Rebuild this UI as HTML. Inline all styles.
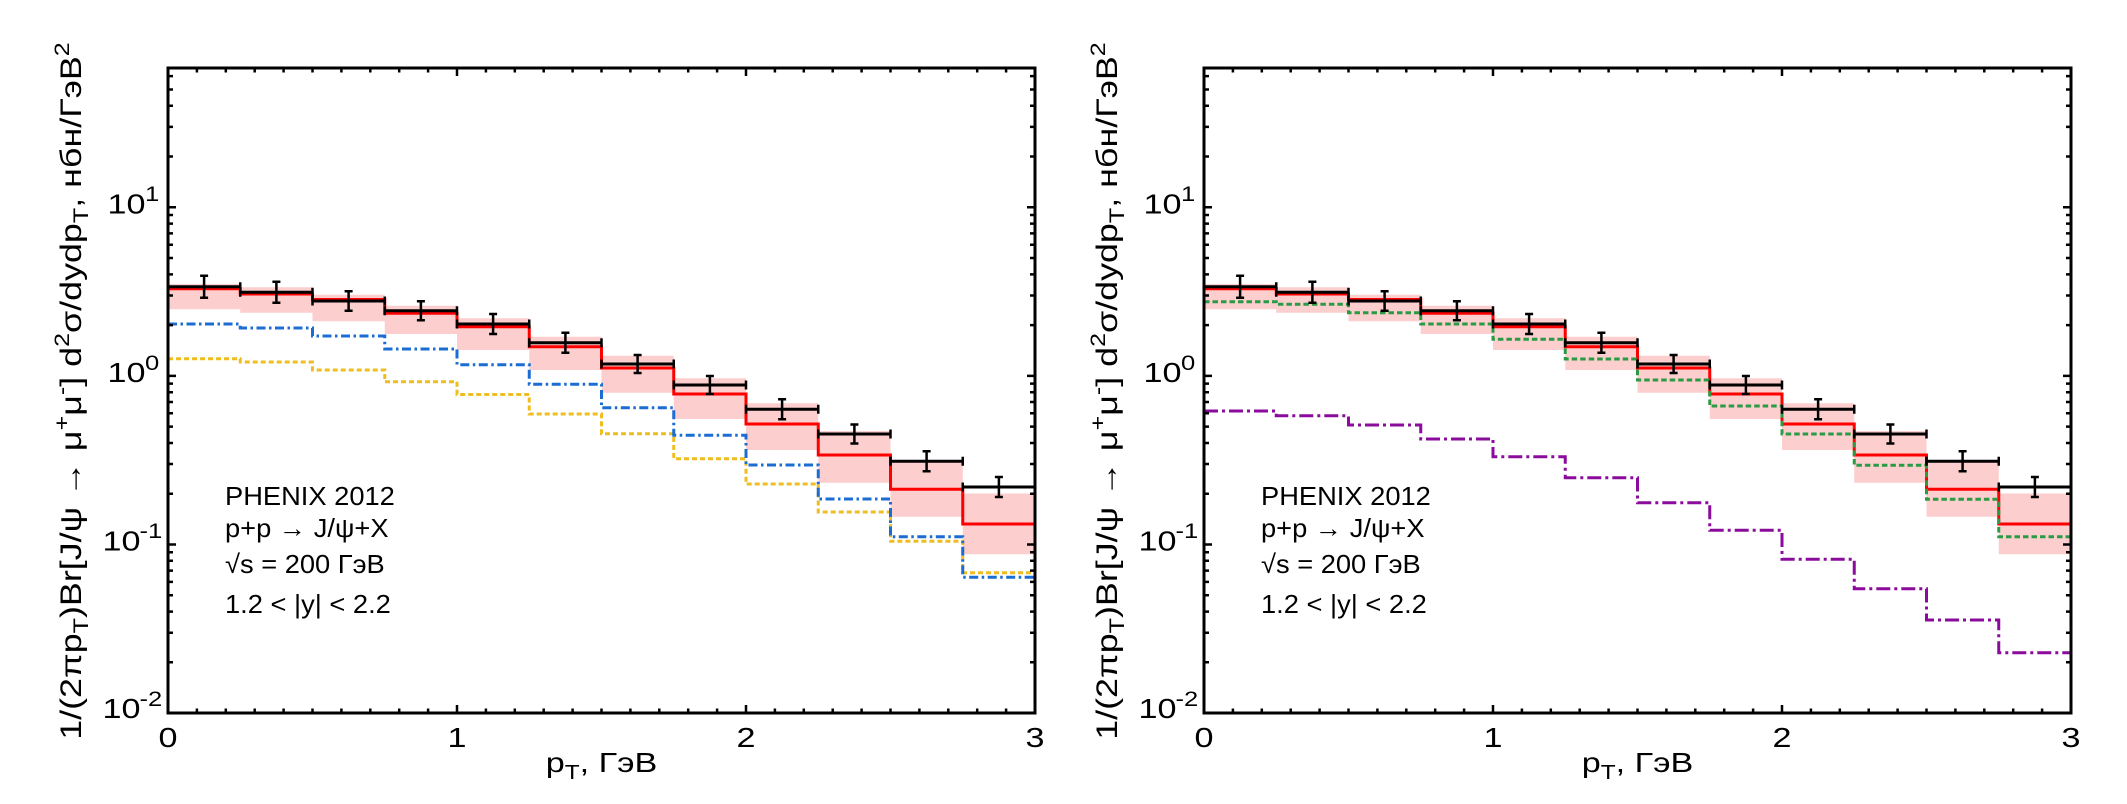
<!DOCTYPE html>
<html><head><meta charset="utf-8"><style>
html,body{margin:0;padding:0;background:#fff;}
svg{display:block;}
text{font-family:"Liberation Sans",Arial,sans-serif;fill:#000;}
</style></head><body>
<svg width="2127" height="804" viewBox="0 0 2127 804" xmlns="http://www.w3.org/2000/svg">
<rect width="2127" height="804" fill="#fff"/>

<!-- LEFT PANEL -->
<g>
<path d="M168,284 H240.25 V287.3 H312.5 V294.7 H384.75 V305.7 H457 V318.3 H529.25 V336.7 H601.5 V355.7 H673.75 V378.3 H746 V403.3 H818.25 V431 H890.5 V461 H962.75 V493.5 H1035 V554.3 H962.75 V516.7 H890.5 V482.7 H818.25 V450 H746 V419 H673.75 V392.7 H601.5 V370 H529.25 V350 H457 V334 H384.75 V321.3 H312.5 V312.7 H240.25 V309.3 H168 Z" fill="#fccece"/>
<path d="M168,288.7 H240.25 V294 H312.5 V299.5 H384.75 V313.3 H457 V326.7 H529.25 V346.7 H601.5 V368 H673.75 V394 H746 V424 H818.25 V455 H890.5 V489.3 H962.75 V524 H1035" fill="none" stroke="#ff0000" stroke-width="3"/>
<path d="M168,358.7 H240.25 V362 H312.5 V370 H384.75 V381.7 H457 V394.5 H529.25 V414 H601.5 V433.7 H673.75 V458.7 H746 V484 H818.25 V512 H890.5 V541.3 H962.75 V572.7 H1035" fill="none" stroke="#efbd1f" stroke-width="3" stroke-dasharray="5 3"/>
<path d="M168,324 H240.25 V328 H312.5 V336 H384.75 V349 H457 V364.7 H529.25 V384.3 H601.5 V407.7 H673.75 V435.3 H746 V465 H818.25 V499 H890.5 V536.7 H962.75 V577.3 H1035" fill="none" stroke="#1b6dd3" stroke-width="3" stroke-dasharray="9 3.5 2.5 3.5"/>
<g fill="none" stroke="#000">
<path stroke-width="3" d="M168 286.7H240.25M240.25 292.3H312.5M312.5 301H384.75M384.75 310.7H457M457 324H529.25M529.25 342.7H601.5M601.5 364H673.75M673.75 385H746M746 409.3H818.25M818.25 434H890.5M890.5 461.3H962.75M962.75 487H1035"/>
<path stroke-width="2.5" d="M168 282.2v9M240.25 282.2v9M240.25 287.8v9M312.5 287.8v9M312.5 296.5v9M384.75 296.5v9M384.75 306.2v9M457 306.2v9M457 319.5v9M529.25 319.5v9M529.25 338.2v9M601.5 338.2v9M601.5 359.5v9M673.75 359.5v9M673.75 380.5v9M746 380.5v9M746 404.8v9M818.25 404.8v9M818.25 429.5v9M890.5 429.5v9M890.5 456.8v9M962.75 456.8v9M962.75 482.5v9M1035 482.5v9"/>
<path stroke-width="2.5" d="M204.1 275.7V297.7M200.1 275.7h8M200.1 297.7h8M276.4 281.8V302.8M272.4 281.8h8M272.4 302.8h8M348.6 291.2V310.8M344.6 291.2h8M344.6 310.8h8M420.9 301.2V320.2M416.9 301.2h8M416.9 320.2h8M493.1 314V334M489.1 314h8M489.1 334h8M565.4 332.7V352.7M561.4 332.7h8M561.4 352.7h8M637.6 355V373M633.6 355h8M633.6 373h8M709.9 376V394M705.9 376h8M705.9 394h8M782.1 399.3V419.3M778.1 399.3h8M778.1 419.3h8M854.4 424.5V443.5M850.4 424.5h8M850.4 443.5h8M926.6 451.3V471.3M922.6 451.3h8M922.6 471.3h8M998.9 477V497M994.9 477h8M994.9 497h8"/>
</g>
<!-- frame and ticks -->
<rect x="168" y="68" width="867" height="645" fill="none" stroke="#000" stroke-width="3"/>
<path fill="none" stroke="#000" stroke-width="2.5" d="M196.9 713v-4.5M225.8 713v-4.5M254.7 713v-4.5M283.6 713v-4.5M312.5 713v-4.5M341.4 713v-4.5M370.3 713v-4.5M399.2 713v-4.5M428.1 713v-4.5M485.9 713v-4.5M514.8 713v-4.5M543.7 713v-4.5M572.6 713v-4.5M601.5 713v-4.5M630.4 713v-4.5M659.3 713v-4.5M688.2 713v-4.5M717.1 713v-4.5M774.9 713v-4.5M803.8 713v-4.5M832.7 713v-4.5M861.6 713v-4.5M890.5 713v-4.5M919.4 713v-4.5M948.3 713v-4.5M977.2 713v-4.5M1006.1 713v-4.5M457 713v-8M746 713v-8
M196.9 68v4.5M225.8 68v4.5M254.7 68v4.5M283.6 68v4.5M312.5 68v4.5M341.4 68v4.5M370.3 68v4.5M399.2 68v4.5M428.1 68v4.5M485.9 68v4.5M514.8 68v4.5M543.7 68v4.5M572.6 68v4.5M601.5 68v4.5M630.4 68v4.5M659.3 68v4.5M688.2 68v4.5M717.1 68v4.5M774.9 68v4.5M803.8 68v4.5M832.7 68v4.5M861.6 68v4.5M890.5 68v4.5M919.4 68v4.5M948.3 68v4.5M977.2 68v4.5M1006.1 68v4.5M457 68v8M746 68v8
M168 662.3h5M168 632.7h5M168 611.6h5M168 595.3h5M168 581.9h5M168 570.6h5M168 560.8h5M168 552.2h5M168 493.75h5M168 464.06h5M168 443h5M168 426.66h5M168 413.3h5M168 402h5M168 392.24h5M168 383.6h5M168 325.15h5M168 295.46h5M168 274.4h5M168 258.06h5M168 244.7h5M168 233.4h5M168 223.64h5M168 215h5M168 156.55h5M168 126.86h5M168 105.8h5M168 89.46h5M168 76.1h5M168 544.5h8M168 375.9h8M168 207.3h8
M1035 662.3h-5M1035 632.7h-5M1035 611.6h-5M1035 595.3h-5M1035 581.9h-5M1035 570.6h-5M1035 560.8h-5M1035 552.2h-5M1035 493.75h-5M1035 464.06h-5M1035 443h-5M1035 426.66h-5M1035 413.3h-5M1035 402h-5M1035 392.24h-5M1035 383.6h-5M1035 325.15h-5M1035 295.46h-5M1035 274.4h-5M1035 258.06h-5M1035 244.7h-5M1035 233.4h-5M1035 223.64h-5M1035 215h-5M1035 156.55h-5M1035 126.86h-5M1035 105.8h-5M1035 89.46h-5M1035 76.1h-5M1035 544.5h-8M1035 375.9h-8M1035 207.3h-8"/>
<!-- tick labels -->
<g font-size="28">
<text transform="translate(168,747) scale(1.22,1)" text-anchor="middle">0</text>
<text transform="translate(457,747) scale(1.22,1)" text-anchor="middle">1</text>
<text transform="translate(746,747) scale(1.22,1)" text-anchor="middle">2</text>
<text transform="translate(1035,747) scale(1.22,1)" text-anchor="middle">3</text>
<text transform="translate(145.5,213.5) scale(1.22,1)" text-anchor="end">10</text>
<text transform="translate(145.5,382) scale(1.22,1)" text-anchor="end">10</text>
<text transform="translate(140.5,550.5) scale(1.22,1)" text-anchor="end">10</text>
<text transform="translate(140.5,718) scale(1.22,1)" text-anchor="end">10</text>
</g>
<g font-size="21">
<text transform="translate(145,201) scale(1.22,1)">1</text>
<text transform="translate(145,370) scale(1.22,1)">0</text>
<text transform="translate(139.5,538) scale(1.22,1)">-1</text>
<text transform="translate(139.5,706) scale(1.22,1)">-2</text>
</g>
<!-- axis titles -->
<text transform="translate(601.5,772) scale(1.22,1)" text-anchor="middle" font-size="28">p<tspan font-size="20" dy="7">T</tspan><tspan dy="-7">, ГэВ</tspan></text>
<text transform="translate(81,391) rotate(-90) scale(1.195,1)" text-anchor="middle" font-size="30">1/(2πp<tspan font-size="21" dy="7">T</tspan><tspan dy="-7">)Br[J/ψ → μ</tspan><tspan font-size="21" dy="-12">+</tspan><tspan dy="12">μ</tspan><tspan font-size="21" dy="-12">-</tspan><tspan dy="12">] d</tspan><tspan font-size="21" dy="-12">2</tspan><tspan dy="12">σ/dydp</tspan><tspan font-size="21" dy="7">T</tspan><tspan dy="-7">, нбн/ГэВ</tspan><tspan font-size="21" dy="-12">2</tspan></text>
<!-- annotation -->
<g font-size="26">
<text transform="translate(225,505) scale(1.05,1)">PHENIX 2012</text>
<text transform="translate(225,537) scale(1.05,1)">p+p → J/ψ+X</text>
<text transform="translate(225,573) scale(1.05,1)">√s = 200 ГэВ</text>
<text transform="translate(225,613) scale(1.05,1)">1.2 &lt; |y| &lt; 2.2</text>
</g>
</g>

<!-- RIGHT PANEL -->
<g transform="translate(1036,0)">
<path d="M168,284 H240.25 V287.3 H312.5 V294.7 H384.75 V305.7 H457 V318.3 H529.25 V336.7 H601.5 V355.7 H673.75 V378.3 H746 V403.3 H818.25 V431 H890.5 V461 H962.75 V493.5 H1035 V554.3 H962.75 V516.7 H890.5 V482.7 H818.25 V450 H746 V419 H673.75 V392.7 H601.5 V370 H529.25 V350 H457 V334 H384.75 V321.3 H312.5 V312.7 H240.25 V309.3 H168 Z" fill="#fccece"/>
<path d="M168,288.7 H240.25 V294 H312.5 V299.5 H384.75 V313.3 H457 V326.7 H529.25 V346.7 H601.5 V368 H673.75 V394 H746 V424 H818.25 V455 H890.5 V489.3 H962.75 V524 H1035" fill="none" stroke="#ff0000" stroke-width="3"/>
<path d="M168,301.7 H240.25 V304.3 H312.5 V312.7 H384.75 V324 H457 V339.3 H529.25 V359 H601.5 V380 H673.75 V406 H746 V434 H818.25 V465.3 H890.5 V499.3 H962.75 V536.7 H1035" fill="none" stroke="#2a9a45" stroke-width="3" stroke-dasharray="5.5 3"/>
<path d="M168,411 H240.25 V415.7 H312.5 V425 H384.75 V439 H457 V456.7 H529.25 V477.7 H601.5 V502.7 H673.75 V530.3 H746 V559.3 H818.25 V588.7 H890.5 V620 H962.75 V652.7 H1035" fill="none" stroke="#8b0b9c" stroke-width="3" stroke-dasharray="14 4 3 4"/>
<g fill="none" stroke="#000">
<path stroke-width="3" d="M168 286.7H240.25M240.25 292.3H312.5M312.5 301H384.75M384.75 310.7H457M457 324H529.25M529.25 342.7H601.5M601.5 364H673.75M673.75 385H746M746 409.3H818.25M818.25 434H890.5M890.5 461.3H962.75M962.75 487H1035"/>
<path stroke-width="2.5" d="M168 282.2v9M240.25 282.2v9M240.25 287.8v9M312.5 287.8v9M312.5 296.5v9M384.75 296.5v9M384.75 306.2v9M457 306.2v9M457 319.5v9M529.25 319.5v9M529.25 338.2v9M601.5 338.2v9M601.5 359.5v9M673.75 359.5v9M673.75 380.5v9M746 380.5v9M746 404.8v9M818.25 404.8v9M818.25 429.5v9M890.5 429.5v9M890.5 456.8v9M962.75 456.8v9M962.75 482.5v9M1035 482.5v9"/>
<path stroke-width="2.5" d="M204.1 275.7V297.7M200.1 275.7h8M200.1 297.7h8M276.4 281.8V302.8M272.4 281.8h8M272.4 302.8h8M348.6 291.2V310.8M344.6 291.2h8M344.6 310.8h8M420.9 301.2V320.2M416.9 301.2h8M416.9 320.2h8M493.1 314V334M489.1 314h8M489.1 334h8M565.4 332.7V352.7M561.4 332.7h8M561.4 352.7h8M637.6 355V373M633.6 355h8M633.6 373h8M709.9 376V394M705.9 376h8M705.9 394h8M782.1 399.3V419.3M778.1 399.3h8M778.1 419.3h8M854.4 424.5V443.5M850.4 424.5h8M850.4 443.5h8M926.6 451.3V471.3M922.6 451.3h8M922.6 471.3h8M998.9 477V497M994.9 477h8M994.9 497h8"/>
</g>
<rect x="168" y="68" width="867" height="645" fill="none" stroke="#000" stroke-width="3"/>
<path fill="none" stroke="#000" stroke-width="2.5" d="M196.9 713v-4.5M225.8 713v-4.5M254.7 713v-4.5M283.6 713v-4.5M312.5 713v-4.5M341.4 713v-4.5M370.3 713v-4.5M399.2 713v-4.5M428.1 713v-4.5M485.9 713v-4.5M514.8 713v-4.5M543.7 713v-4.5M572.6 713v-4.5M601.5 713v-4.5M630.4 713v-4.5M659.3 713v-4.5M688.2 713v-4.5M717.1 713v-4.5M774.9 713v-4.5M803.8 713v-4.5M832.7 713v-4.5M861.6 713v-4.5M890.5 713v-4.5M919.4 713v-4.5M948.3 713v-4.5M977.2 713v-4.5M1006.1 713v-4.5M457 713v-8M746 713v-8
M196.9 68v4.5M225.8 68v4.5M254.7 68v4.5M283.6 68v4.5M312.5 68v4.5M341.4 68v4.5M370.3 68v4.5M399.2 68v4.5M428.1 68v4.5M485.9 68v4.5M514.8 68v4.5M543.7 68v4.5M572.6 68v4.5M601.5 68v4.5M630.4 68v4.5M659.3 68v4.5M688.2 68v4.5M717.1 68v4.5M774.9 68v4.5M803.8 68v4.5M832.7 68v4.5M861.6 68v4.5M890.5 68v4.5M919.4 68v4.5M948.3 68v4.5M977.2 68v4.5M1006.1 68v4.5M457 68v8M746 68v8
M168 662.3h5M168 632.7h5M168 611.6h5M168 595.3h5M168 581.9h5M168 570.6h5M168 560.8h5M168 552.2h5M168 493.75h5M168 464.06h5M168 443h5M168 426.66h5M168 413.3h5M168 402h5M168 392.24h5M168 383.6h5M168 325.15h5M168 295.46h5M168 274.4h5M168 258.06h5M168 244.7h5M168 233.4h5M168 223.64h5M168 215h5M168 156.55h5M168 126.86h5M168 105.8h5M168 89.46h5M168 76.1h5M168 544.5h8M168 375.9h8M168 207.3h8
M1035 662.3h-5M1035 632.7h-5M1035 611.6h-5M1035 595.3h-5M1035 581.9h-5M1035 570.6h-5M1035 560.8h-5M1035 552.2h-5M1035 493.75h-5M1035 464.06h-5M1035 443h-5M1035 426.66h-5M1035 413.3h-5M1035 402h-5M1035 392.24h-5M1035 383.6h-5M1035 325.15h-5M1035 295.46h-5M1035 274.4h-5M1035 258.06h-5M1035 244.7h-5M1035 233.4h-5M1035 223.64h-5M1035 215h-5M1035 156.55h-5M1035 126.86h-5M1035 105.8h-5M1035 89.46h-5M1035 76.1h-5M1035 544.5h-8M1035 375.9h-8M1035 207.3h-8"/>
<g font-size="28">
<text transform="translate(168,747) scale(1.22,1)" text-anchor="middle">0</text>
<text transform="translate(457,747) scale(1.22,1)" text-anchor="middle">1</text>
<text transform="translate(746,747) scale(1.22,1)" text-anchor="middle">2</text>
<text transform="translate(1035,747) scale(1.22,1)" text-anchor="middle">3</text>
<text transform="translate(145.5,213.5) scale(1.22,1)" text-anchor="end">10</text>
<text transform="translate(145.5,382) scale(1.22,1)" text-anchor="end">10</text>
<text transform="translate(140.5,550.5) scale(1.22,1)" text-anchor="end">10</text>
<text transform="translate(140.5,718) scale(1.22,1)" text-anchor="end">10</text>
</g>
<g font-size="21">
<text transform="translate(145,201) scale(1.22,1)">1</text>
<text transform="translate(145,370) scale(1.22,1)">0</text>
<text transform="translate(139.5,538) scale(1.22,1)">-1</text>
<text transform="translate(139.5,706) scale(1.22,1)">-2</text>
</g>
<text transform="translate(601.5,772) scale(1.22,1)" text-anchor="middle" font-size="28">p<tspan font-size="20" dy="7">T</tspan><tspan dy="-7">, ГэВ</tspan></text>
<text transform="translate(81,391) rotate(-90) scale(1.195,1)" text-anchor="middle" font-size="30">1/(2πp<tspan font-size="21" dy="7">T</tspan><tspan dy="-7">)Br[J/ψ → μ</tspan><tspan font-size="21" dy="-12">+</tspan><tspan dy="12">μ</tspan><tspan font-size="21" dy="-12">-</tspan><tspan dy="12">] d</tspan><tspan font-size="21" dy="-12">2</tspan><tspan dy="12">σ/dydp</tspan><tspan font-size="21" dy="7">T</tspan><tspan dy="-7">, нбн/ГэВ</tspan><tspan font-size="21" dy="-12">2</tspan></text>
<g font-size="26">
<text transform="translate(225,505) scale(1.05,1)">PHENIX 2012</text>
<text transform="translate(225,537) scale(1.05,1)">p+p → J/ψ+X</text>
<text transform="translate(225,573) scale(1.05,1)">√s = 200 ГэВ</text>
<text transform="translate(225,613) scale(1.05,1)">1.2 &lt; |y| &lt; 2.2</text>
</g>
</g>
</svg>
</body></html>
